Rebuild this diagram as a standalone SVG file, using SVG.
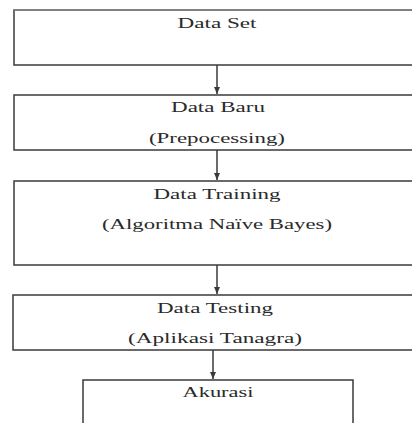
<svg xmlns="http://www.w3.org/2000/svg" width="412" height="423" viewBox="0 0 412 423">
<style>
.box{fill:#fff;stroke:#3a3a3a;stroke-width:1.5}
.lbl{font-family:'Liberation Serif','DejaVu Serif',serif;font-size:15px;fill:#2a2a2a;text-anchor:middle}
.conn{stroke:#3a3a3a;stroke-width:1.5;fill:none;marker-end:url(#ah)}
</style>
<defs>
<marker id="ah" markerWidth="8" markerHeight="6" refX="7" refY="3" orient="auto" markerUnits="userSpaceOnUse">
<path d="M0,0 L7,3 L0,6 Z" fill="#3a3a3a"/>
</marker>
</defs>
<rect width="412" height="423" fill="#fff"/>
<g id="connectors">
<line class="conn" x1="217" y1="65" x2="217" y2="94"/>
<line class="conn" x1="217" y1="150" x2="217" y2="180"/>
<line class="conn" x1="217" y1="265" x2="217" y2="294"/>
<line class="conn" x1="213" y1="350" x2="213" y2="379"/>
</g>
<g id="data-set">
<rect class="box" x="14" y="10" width="410" height="55"/>
<line x1="14" y1="10" x2="412" y2="10" stroke="#8a8a8a" stroke-width="1.5"/>
<text class="lbl" x="217" y="28" textLength="79" lengthAdjust="spacingAndGlyphs">Data Set</text>
</g>
<g id="data-baru">
<rect class="box" x="14" y="95" width="410" height="55"/>
<text class="lbl" x="218" y="112" textLength="94" lengthAdjust="spacingAndGlyphs">Data Baru</text>
<text class="lbl" x="217" y="143" textLength="136" lengthAdjust="spacingAndGlyphs">(Prepocessing)</text>
</g>
<g id="data-training">
<rect class="box" x="14" y="181" width="410" height="84"/>
<text class="lbl" x="217" y="199" textLength="127" lengthAdjust="spacingAndGlyphs">Data Training</text>
<text class="lbl" x="217" y="229" textLength="230" lengthAdjust="spacingAndGlyphs">(Algoritma Naïve Bayes)</text>
</g>
<g id="data-testing">
<rect class="box" x="13" y="295" width="411" height="55"/>
<text class="lbl" x="215" y="313" textLength="116" lengthAdjust="spacingAndGlyphs">Data Testing</text>
<text class="lbl" x="215" y="343" textLength="174" lengthAdjust="spacingAndGlyphs">(Aplikasi Tanagra)</text>
</g>
<g id="akurasi">
<rect class="box" x="83" y="380" width="270" height="60"/>
<text class="lbl" x="218" y="397" textLength="71" lengthAdjust="spacingAndGlyphs">Akurasi</text>
</g>
</svg>
